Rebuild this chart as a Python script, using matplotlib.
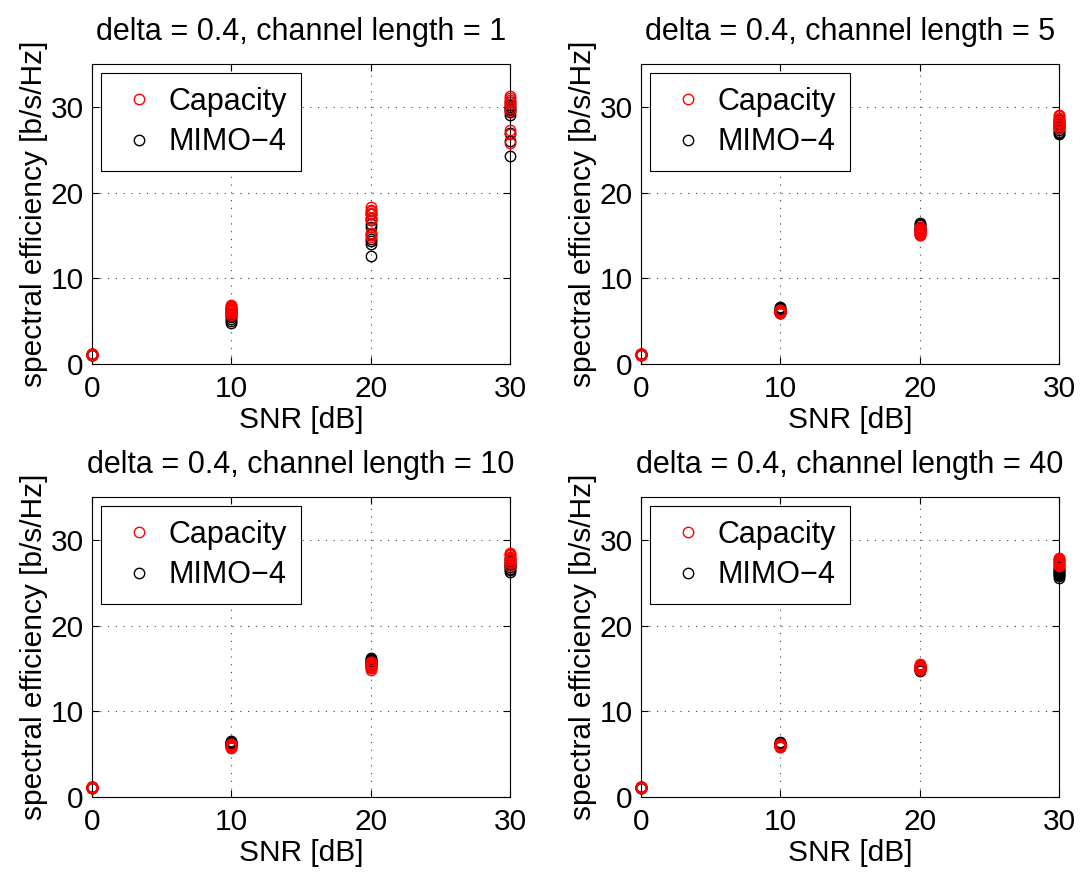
import matplotlib
matplotlib.use("Agg")
import matplotlib.pyplot as plt

plt.rcParams['font.family'] = ['Liberation Sans', 'DejaVu Sans']
plt.rcParams['font.size'] = 21.5
plt.rcParams['axes.titlesize'] = 22

snr_db = [0, 10, 20, 30]
channel_lengths = [1, 5, 10, 40]
delta = 0.4

# Spectral efficiency [b/s/Hz] for 10 channel realisations per SNR point
capacity = {
    1: [
        [1.05, 1.10, 1.15, 1.20, 1.00, 1.10, 1.15, 1.05, 1.10, 1.20],
        [6.90, 6.60, 6.30, 6.00, 5.70, 6.50, 6.80, 6.20, 5.90, 6.40],
        [18.3, 17.9, 17.5, 17.0, 15.3, 14.8, 18.0, 16.8, 17.6, 15.0],
        [31.3, 30.8, 30.3, 29.9, 29.5, 31.0, 30.6, 27.3, 26.8, 25.8],
    ],
    5: [
        [1.10, 1.15, 1.20, 1.10, 1.15, 1.20, 1.10, 1.15, 1.20, 1.10],
        [5.90, 6.00, 6.10, 6.20, 6.30, 6.00, 6.15, 6.25, 5.95, 6.10],
        [15.0, 15.2, 15.4, 15.6, 15.8, 16.0, 15.3, 15.5, 15.7, 15.1],
        [29.0, 28.7, 28.4, 28.1, 27.8, 27.5, 28.9, 28.2, 27.9, 28.6],
    ],
    10: [
        [1.10, 1.15, 1.20, 1.10, 1.15, 1.20, 1.10, 1.15, 1.20, 1.10],
        [5.70, 5.85, 6.00, 6.10, 6.20, 5.90, 6.05, 5.80, 6.15, 5.95],
        [14.8, 15.0, 15.2, 15.4, 15.6, 15.8, 15.1, 15.3, 15.5, 15.7],
        [28.5, 28.2, 27.9, 27.6, 27.3, 27.0, 28.3, 27.8, 27.4, 28.0],
    ],
    40: [
        [1.10, 1.15, 1.20, 1.10, 1.15, 1.20, 1.10, 1.15, 1.20, 1.10],
        [5.80, 5.90, 6.00, 6.10, 6.20, 5.85, 5.95, 6.05, 6.15, 6.00],
        [14.8, 15.0, 15.2, 15.4, 15.5, 14.9, 15.1, 15.3, 15.2, 15.0],
        [27.9, 27.7, 27.5, 27.3, 27.1, 26.9, 27.8, 27.6, 27.4, 27.2],
    ],
}

mimo4 = {
    1: [
        [1.05, 1.10, 1.15, 1.20, 1.00, 1.10, 1.15, 1.05, 1.10, 1.20],
        [6.50, 6.00, 5.50, 4.80, 5.20, 6.20, 5.80, 5.00, 6.40, 5.60],
        [17.5, 16.8, 16.3, 14.6, 14.0, 12.6, 17.0, 15.2, 16.0, 14.3],
        [30.6, 30.2, 29.8, 29.4, 30.0, 29.6, 27.0, 26.0, 24.3, 29.0],
    ],
    5: [
        [1.10, 1.15, 1.20, 1.10, 1.15, 1.20, 1.10, 1.15, 1.20, 1.10],
        [6.00, 6.20, 6.40, 6.60, 6.30, 6.10, 6.50, 6.25, 6.35, 6.05],
        [15.3, 15.6, 15.9, 16.2, 16.5, 15.4, 15.8, 16.0, 16.3, 15.7],
        [28.5, 28.2, 27.9, 27.6, 27.3, 27.0, 26.8, 28.0, 27.5, 27.1],
    ],
    10: [
        [1.10, 1.15, 1.20, 1.10, 1.15, 1.20, 1.10, 1.15, 1.20, 1.10],
        [6.00, 6.10, 6.20, 6.30, 6.40, 6.50, 6.15, 6.35, 6.25, 6.05],
        [15.2, 15.5, 15.8, 16.1, 16.2, 15.4, 15.7, 15.9, 16.0, 15.6],
        [27.8, 27.5, 27.2, 26.9, 26.6, 26.3, 27.0, 26.5, 27.3, 26.8],
    ],
    40: [
        [1.10, 1.15, 1.20, 1.10, 1.15, 1.20, 1.10, 1.15, 1.20, 1.10],
        [5.90, 6.00, 6.10, 6.20, 6.30, 6.40, 6.05, 6.15, 6.25, 6.35],
        [14.7, 14.9, 15.1, 15.3, 14.8, 15.0, 15.2, 14.95, 15.15, 15.05],
        [26.8, 26.6, 26.4, 26.2, 26.0, 25.8, 25.6, 26.5, 26.1, 25.9],
    ],
}

W, H = 1083, 876
fig = plt.figure(figsize=(W / 100, H / 100), dpi=100)

# Axes boxes in pixels: (left, top) with common width/height
ax_w, ax_h = 418, 300
col_left = [92, 641]
row_top = [64, 497]

for idx, L in enumerate(channel_lengths):
    r, c = divmod(idx, 2)
    left, top = col_left[c], row_top[r]
    ax = fig.add_axes([left / W, (H - top - ax_h) / H, ax_w / W, ax_h / H])

    for k, s in enumerate(snr_db):
        lbl_c = 'Capacity' if k == 0 else None
        lbl_m = 'MIMO\u22124' if k == 0 else None
        ax.plot([s] * len(capacity[L][k]), capacity[L][k], 'o', ms=7.5,
                mfc='none', mec='red', mew=1.0, label=lbl_c, zorder=4,
                clip_on=False)
        ax.plot([s] * len(mimo4[L][k]), mimo4[L][k], 'o', ms=7.5,
                mfc='none', mec='black', mew=1.0, label=lbl_m, zorder=3,
                clip_on=False)

    ax.set_xlim(0, 30)
    ax.set_ylim(0, 35)
    ax.set_xticks([0, 10, 20, 30])
    ax.set_yticks([0, 10, 20, 30])
    ax.tick_params(axis='x', direction='in', length=5, width=0.8, top=True,
                   pad=8)
    ax.tick_params(axis='y', direction='in', length=5, width=0.8, right=True,
                   pad=6)
    ax.grid(True, color='0.25', linestyle=(0, (1, 6)), linewidth=0.8)
    for sp in ax.spines.values():
        sp.set_linewidth(0.8)
    ax.set_xlabel('SNR [dB]', labelpad=2)
    ax.set_ylabel('spectral efficiency [b/s/Hz]', labelpad=2)
    ax.set_title(f'delta = {delta}, channel length = {L}', pad=17)

    leg = ax.legend(loc='upper left', bbox_to_anchor=(0.022, 0.97),
                    fancybox=False, framealpha=1, edgecolor='black',
                    borderpad=0.45, handletextpad=0.15, handlelength=1.6,
                    labelspacing=0.35, borderaxespad=0, fontsize=22)
    leg.get_frame().set_linewidth(0.8)

fig.savefig('out.png', dpi=100)
